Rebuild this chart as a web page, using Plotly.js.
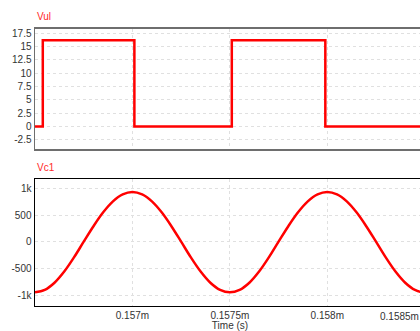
<!DOCTYPE html>
<html><head><meta charset="utf-8">
<script src="https://cdn.plot.ly/plotly-3.0.1.min.js"></script>
<style>html,body{margin:0;padding:0;overflow:hidden;background:#fff;width:420px;height:331px}#c{width:440px;height:331px}</style>
</head><body><div id="c"></div>
<script>
// Vul (square wave) – time in ms-units (labelled with "m")
const vulTime = [0.1565, 0.15654, 0.15654, 0.15701, 0.15701, 0.15751, 0.15751, 0.15799, 0.15799, 0.15849, 0.15849, 0.1587];
const vulValue = [0, 0, 16.2, 16.2, 0, 0, 16.2, 16.2, 0, 0, 16.2, 16.2];

// Vc1 (sinusoid)
const vc1Time = [0.1565,0.15655,0.1566,0.15665,0.1567,0.15675,0.1568,0.15685,0.1569,0.15695,
  0.157,0.15705,0.1571,0.15715,0.1572,0.15725,0.1573,0.15735,0.1574,0.15745,
  0.1575,0.15755,0.1576,0.15765,0.1577,0.15775,0.1578,0.15785,0.1579,0.15795,
  0.158,0.15805,0.1581,0.15815,0.1582,0.15825,0.1583,0.15835,0.1584,0.15845,
  0.1585,0.15855,0.1586];
const vc1Value = [-950,-905,-770,-560,-295,0,290,550,755,885,
  930,885,755,550,290,0,-295,-560,-770,-905,
  -950,-905,-770,-560,-295,0,290,550,755,885,
  930,885,755,550,290,0,-295,-560,-770,-905,
  -950,-905,-770];

const xTicks = [0.157, 0.1575, 0.158];
const xTickText = ['0.157m', '0.1575m', '0.158m'];
const lastTickText = '0.1585m';
const vulTicks = [-2.5, 0, 2.5, 5, 7.5, 10, 12.5, 15, 17.5];
const vulTickText = ['-2.5', '0', '2.5', '5', '7.5', '10', '12.5', '15', '17.5'];
const vc1Ticks = [-1000, -500, 0, 500, 1000];
const vc1TickText = ['-1k', '-500', '0', '500', '1k'];

const H = 331;
const xr = [0.1565, 0.1585015];
const font = {family: 'Liberation Sans, Arial, sans-serif', size: 10, color: '#333'};
const gridc = '#e0e0e0';

const data = [
  {x: vulTime, y: vulValue, xaxis: 'x', yaxis: 'y', mode: 'lines', line: {color: '#ff0000', width: 2.5, shape: 'linear'}, hoverinfo: 'none'},
  {x: vc1Time, y: vc1Value, xaxis: 'x2', yaxis: 'y2', mode: 'lines', line: {color: '#ff0000', width: 2.5, shape: 'spline', smoothing: 1}, hoverinfo: 'none'}
];

const layout = {
  width: 440, height: 331,
  margin: {l: 35, r: 15, t: 0, b: 0},
  paper_bgcolor: '#fff', plot_bgcolor: '#fff',
  showlegend: false,
  font: font,
  xaxis: {domain: [0, 1], anchor: 'y', range: xr, tickvals: xTicks, ticktext: xTickText, showticklabels: false,
    showgrid: true, gridcolor: gridc, griddash: 'dot', zeroline: false,
    showline: true, mirror: true, linecolor: '#6e6e6e', linewidth: 2, ticks: ''},
  yaxis: {domain: [(H-149)/H, (H-29)/H], anchor: 'x', range: [-4.2, 18.3], tickvals: vulTicks, ticktext: vulTickText,
    showgrid: true, gridcolor: gridc, griddash: 'dot', zeroline: false,
    showline: true, mirror: true, linecolor: '#6e6e6e', linewidth: 1.5, ticks: '', tickfont: font},
  xaxis2: {domain: [0, 1], anchor: 'y2', range: xr, tickvals: xTicks, ticktext: xTickText,
    showgrid: true, gridcolor: gridc, griddash: 'dot', zeroline: false,
    showline: true, mirror: true, linecolor: '#000', linewidth: 1.5, ticks: '', tickfont: font,
    title: {text: 'Time (s)', font: font, standoff: 7}},
  yaxis2: {domain: [(H-305.7)/H, (H-179)/H], anchor: 'x2', range: [-1200, 1175], tickvals: vc1Ticks, ticktext: vc1TickText,
    showgrid: true, gridcolor: gridc, griddash: 'dot', zeroline: false,
    showline: true, mirror: true, linecolor: '#000', linewidth: 1.5, ticks: '', tickfont: font},
  annotations: [
    {text: 'Vul', xref: 'paper', yref: 'paper', x: 0, y: (H-16)/H, xanchor: 'left', yanchor: 'middle', showarrow: false,
      font: {family: 'Liberation Sans, Arial, sans-serif', size: 10, color: '#ff2a2a'}},
    {text: 'Vc1', xref: 'paper', yref: 'paper', x: 0, y: (H-167)/H, xanchor: 'left', yanchor: 'middle', showarrow: false,
      font: {family: 'Liberation Sans, Arial, sans-serif', size: 10, color: '#ff2a2a'}},
    {text: lastTickText, xref: 'paper', yref: 'paper', x: 0, y: (H-316)/H, xanchor: 'left', yanchor: 'middle', showarrow: false, xshift: 343,
      font: font}
  ]
};

Plotly.newPlot('c', data, layout, {staticPlot: true, displayModeBar: false});
</script></body></html>
